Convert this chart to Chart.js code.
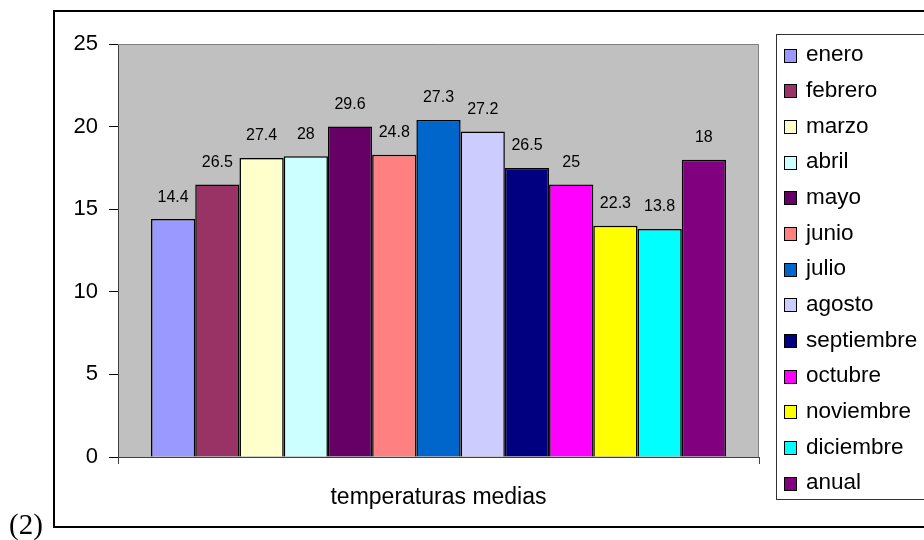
<!DOCTYPE html>
<html><head><meta charset="utf-8">
<script src="https://cdn.jsdelivr.net/npm/chart.js@4.4.0/dist/chart.umd.min.js"></script>
<style>html,body{margin:0;padding:0;background:#fff;}canvas{display:block;}</style>
</head><body>
<canvas id="c" width="924" height="540"></canvas>
<script>
const categories = ['temperaturas medias'];
const seriesNames = ['enero','febrero','marzo','abril','mayo','junio','julio','agosto','septiembre','octubre','noviembre','diciembre','anual'];
const seriesValues = [14.4, 16.5, 18.1, 18.2, 20, 18.3, 20.4, 19.7, 17.5, 16.5, 14, 13.8, 18];
const valueLabels = ['14.4','26.5','27.4','28','29.6','24.8','27.3','27.2','26.5','25','22.3','13.8','18'];
const seriesColors = ['#9999FF','#993366','#FFFFCC','#CCFFFF','#660066','#FF8080','#0066CC','#CCCCFF','#000080','#FF00FF','#FFFF00','#00FFFF','#800080'];
const yMin = 0, yMax = 25, yStep = 5;
const figureTag = '(2)';

const SANS = '"Liberation Sans", Arial, Helvetica, sans-serif';

const decor = {
  id: 'decor',
  beforeDraw(chart) {
    const {ctx, chartArea: a} = chart;
    ctx.save();
    ctx.fillStyle = '#fff';
    ctx.fillRect(0, 0, chart.width, chart.height);
    ctx.fillStyle = '#C0C0C0';
    ctx.fillRect(a.left, a.top, a.right - a.left, a.bottom - a.top);
    ctx.restore();
  },
  afterDraw(chart) {
    const {ctx, chartArea: a} = chart;
    ctx.save();
    // plot area top/right border
    ctx.strokeStyle = '#808080';
    ctx.lineWidth = 1;
    ctx.beginPath();
    ctx.moveTo(a.left, a.top + 0.5);
    ctx.lineTo(a.right - 0.5, a.top + 0.5);
    ctx.lineTo(a.right - 0.5, a.bottom);
    ctx.stroke();

    // value labels
    ctx.fillStyle = '#000';
    ctx.font = '16px ' + SANS;
    ctx.textAlign = 'center';
    ctx.textBaseline = 'middle';
    chart.data.datasets.forEach((ds, i) => {
      const el = chart.getDatasetMeta(i).data[0];
      ctx.fillText(valueLabels[i], el.x, el.y - 22);
    });

    // legend
    const lx = 776.5, ly = 34.5, lb = 499.5;
    ctx.strokeStyle = '#333';
    ctx.lineWidth = 1;
    ctx.strokeRect(lx, ly, 400, lb - ly);
    ctx.font = '22.5px ' + SANS;
    ctx.textAlign = 'left';
    ctx.textBaseline = 'middle';
    chart.data.datasets.forEach((ds, i) => {
      const cy = 55 + i * 35.67;
      ctx.fillStyle = ds.backgroundColor;
      ctx.fillRect(784, Math.round(cy - 6.5), 12, 13);
      ctx.strokeStyle = '#000';
      ctx.strokeRect(784.5, Math.round(cy - 6.5) + 0.5, 12, 13);
      ctx.fillStyle = '#000';
      ctx.fillText(ds.label, 806, cy);
    });

    // outer frame
    ctx.strokeStyle = '#000';
    ctx.lineWidth = 2;
    ctx.strokeRect(54, 11, 1000, 516);

    // figure tag
    ctx.font = '29px "Liberation Serif", "Times New Roman", serif';
    ctx.textBaseline = 'alphabetic';
    ctx.fillStyle = '#000';
    ctx.fillText(figureTag, 9, 534);
    ctx.restore();
  }
};

new Chart(document.getElementById('c'), {
  type: 'bar',
  data: {
    labels: categories,
    datasets: seriesNames.map((name, i) => ({
      label: name,
      data: [seriesValues[i]],
      backgroundColor: seriesColors[i],
      borderColor: '#000',
      borderWidth: 1.5,
      borderSkipped: 'start',
      barPercentage: 1,
      categoryPercentage: 0.897
    }))
  },
  options: {
    responsive: false,
    animation: false,
    layout: { padding: { left: 0, top: 44, right: 165, bottom: 0 } },
    plugins: { legend: { display: false }, tooltip: { enabled: false } },
    scales: {
      x: {
        afterFit(s) { s.height = 83; },
        grid: { drawOnChartArea: false, drawTicks: true, tickLength: 7, color: '#404040', offset: true },
        border: { display: true, color: '#404040', width: 1 },
        ticks: { color: '#000', font: { family: SANS, size: 23 }, padding: 20 }
      },
      y: {
        min: yMin, max: yMax,
        afterFit(s) { s.width = 118; },
        grid: { drawOnChartArea: false, drawTicks: true, tickLength: 9, color: '#000' },
        border: { display: true, color: '#404040', width: 1 },
        ticks: { stepSize: yStep, color: '#000', font: { family: SANS, size: 22 }, padding: 11 }
      }
    }
  },
  plugins: [decor]
});
</script>
</body></html>
